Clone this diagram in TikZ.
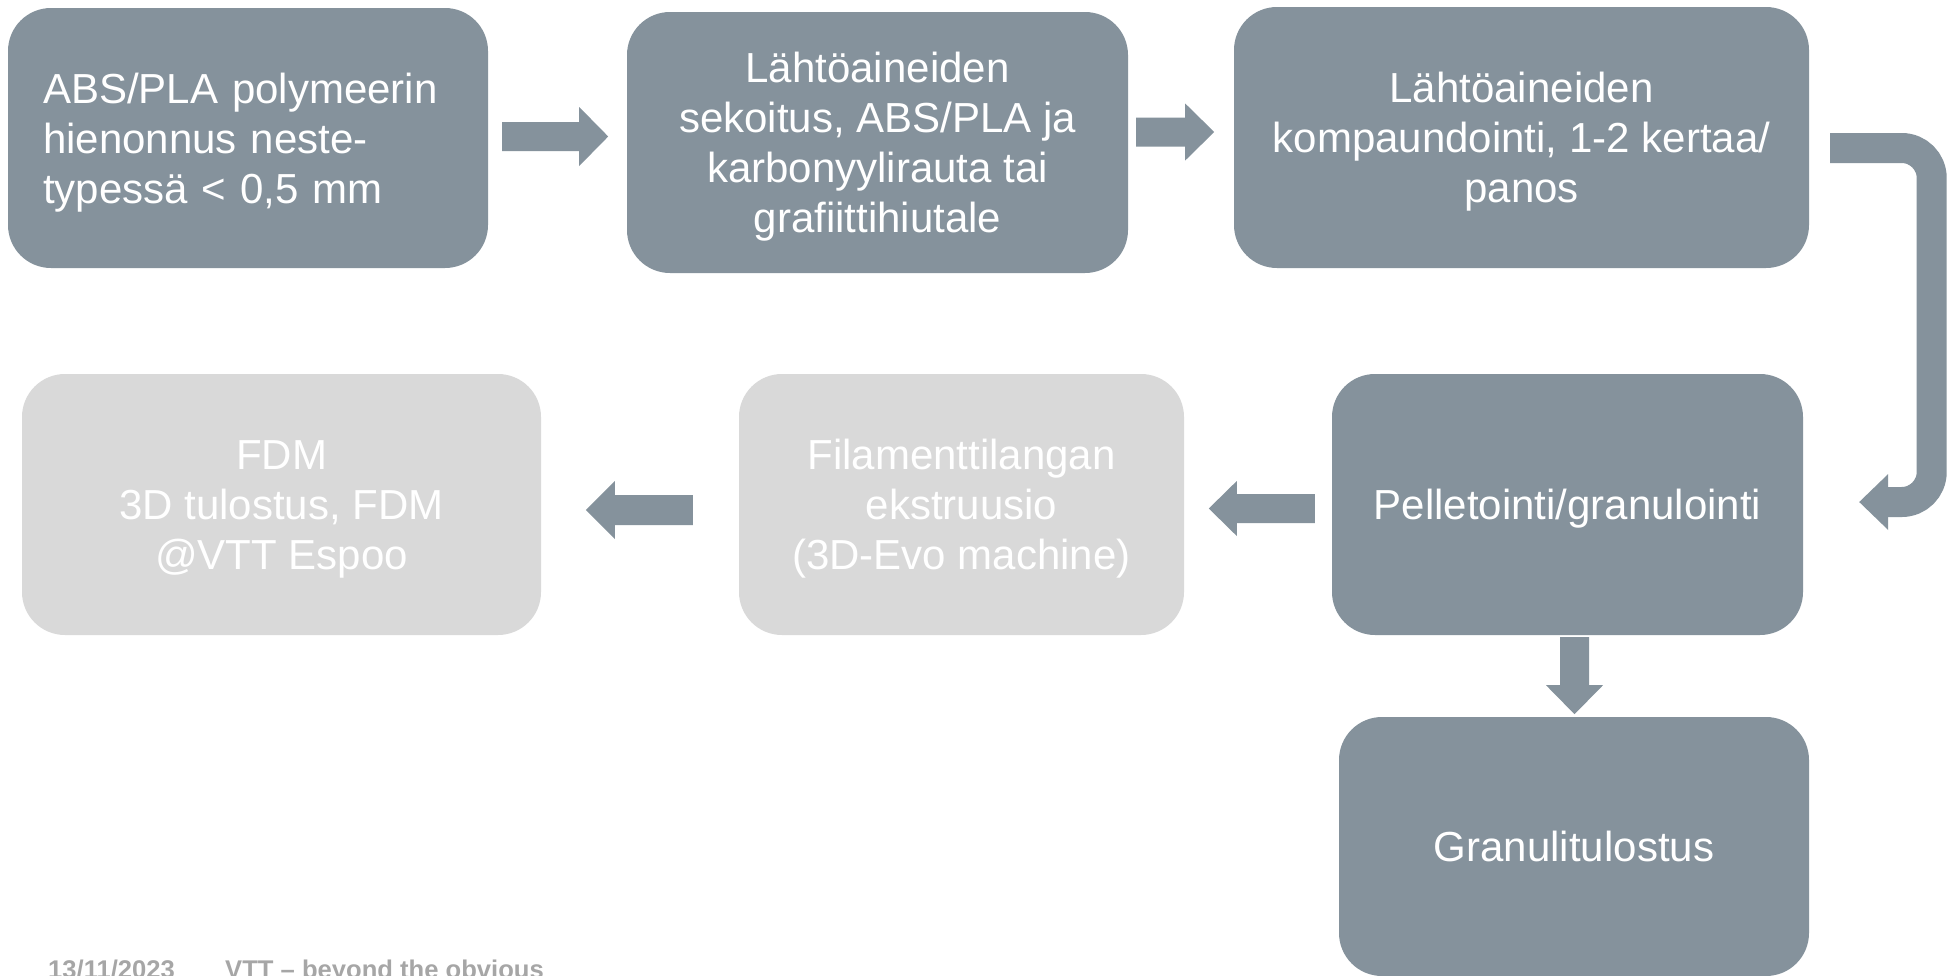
\documentclass[tikz,border=0pt]{standalone}
\usepackage{fontspec}
\setmainfont{Liberation Sans}
\usetikzlibrary{calc}
\definecolor{slate}{RGB}{133,146,156}
\definecolor{pale}{RGB}{217,217,217}
\definecolor{foot}{RGB}{166,166,166}
\newcommand\boxtopstrut{\rule{0pt}{40pt}}
\newcommand\boxbotstrut{\rule[-10pt]{0pt}{10pt}}
\begin{document}
\begin{tikzpicture}[x=1pt,y=-1pt,
  box/.style={rounded corners=43pt, minimum height=260pt, inner sep=0pt, text=white,
    align=center, font=\fontsize{42}{50}\selectfont},
  dark/.style={box, fill=slate},
  light/.style={box, fill=pale},
  blockarrow/.style={fill=slate},
  footer/.style={anchor=base west, inner sep=0pt, text=foot, font=\bfseries\fontsize{25.6}{30}\selectfont}]
\useasboundingbox (0,0) rectangle (1957,975);
\fill[white] (0,0) rectangle (1957,975);

% top row
\node[dark, minimum width=480pt, text width=410pt, align=left] (b1) at (248,138)
  {\boxtopstrut ABS/PLA polymeerin\\hienonnus neste-\\typessä < 0,5 mm\boxbotstrut};
\node[dark, minimum width=501pt, minimum height=261pt] (b2) at (877.5,142.5)
  {\boxtopstrut Lähtöaineiden\\sekoitus, ABS/PLA ja\\karbonyylirauta tai\\grafiittihiutale\boxbotstrut};
\node[dark, minimum width=575pt, minimum height=261pt] (b3) at (1521.5,137.5)
  {\boxtopstrut Lähtöaineiden\\kompaundointi, 1-2 kertaa/\\panos\boxbotstrut};

% middle row
\node[light, minimum width=519pt, minimum height=261pt] (b4) at (281.5,504.5)
  {\boxtopstrut FDM\\3D tulostus, FDM\\@VTT Espoo\boxbotstrut};
\node[light, minimum width=445pt, minimum height=261pt] (b5) at (961.5,504.5)
  {\boxtopstrut Filamenttilangan\\ekstruusio\\(3D-Evo machine)\boxbotstrut};
\node[dark, minimum width=471pt, minimum height=261pt] (b6) at (1567.5,504.5)
  {\boxtopstrut Pelletointi/granulointi\boxbotstrut};

% bottom
\node[dark, minimum width=470pt, minimum height=259pt] (b7) at (1574,846.5)
  {\boxtopstrut Granulitulostus\boxbotstrut};

% block arrows
\fill[blockarrow] ($(b1.east)+(14,-16)$) -- ++(77,0) -- ++(0,-15) -- ++(29,29.5)
  -- ++(-29,29.5) -- ++(0,-15) -- ++(-77,0) -- cycle;
\fill[blockarrow] ($(b2.east)+(8,-25)$) -- ++(49,0) -- ++(0,-14) -- ++(29,28.5)
  -- ++(-29,28.5) -- ++(0,-14) -- ++(-49,0) -- cycle;
\draw[slate, line width=30pt, rounded corners=30pt] ($(b3.east)+(21,10.5)$) -- ++(101.5,0)
  |- ($(b6.east)+(84,-2.5)$);
\fill[blockarrow] ($(b6.east)+(56,-2.5)$) -- ++(29,-28) -- ++(0,56) -- cycle;
\fill[blockarrow] ($(b6.west)+(-17,-10.5)$) -- ++(-78,0) -- ++(0,-13) -- ++(-28,27.5)
  -- ++(28,27.5) -- ++(0,-13) -- ++(78,0) -- cycle;
\fill[blockarrow] ($(b5.west)+(-46,-9.5)$) -- ++(-78,0) -- ++(0,-14) -- ++(-29,29)
  -- ++(29,29) -- ++(0,-14) -- ++(78,0) -- cycle;
\fill[blockarrow] ($(b6.south)+(-7.5,2)$) -- ++(0,48) -- ++(-14,0) -- ++(28.5,29)
  -- ++(28.5,-29) -- ++(-14,0) -- ++(0,-48) -- cycle;

% footer
\node[footer] (date) at (48,978) {13/11/2023};
\node[footer] (tag) at (225,978) {VTT – beyond the obvious};
\end{tikzpicture}
\end{document}
